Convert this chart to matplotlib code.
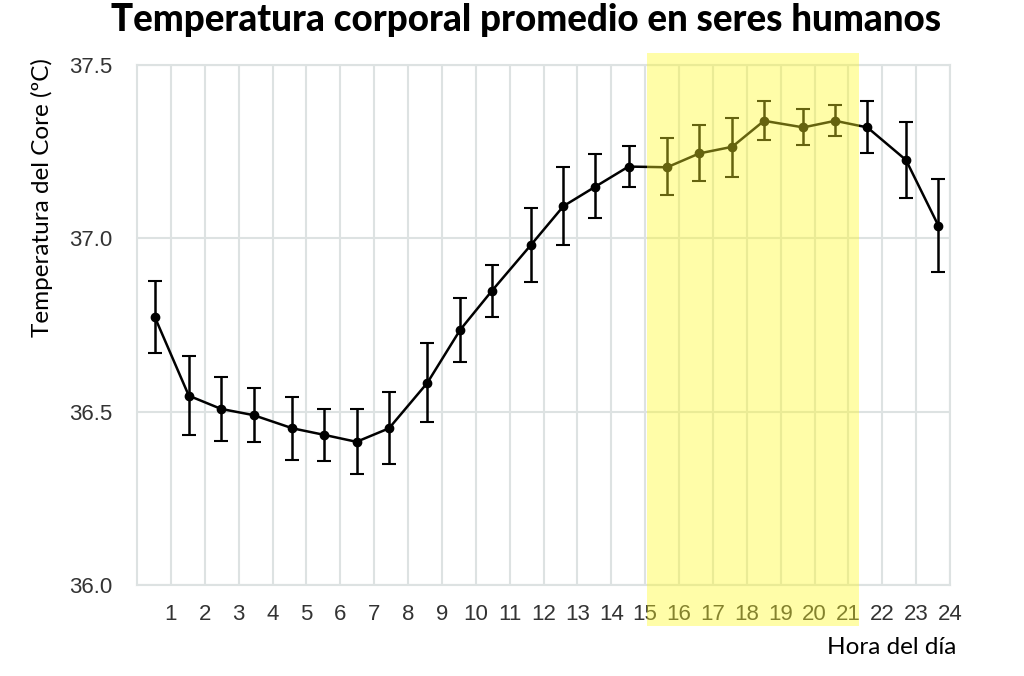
import numpy as np
import matplotlib
matplotlib.use("Agg")
import matplotlib.pyplot as plt

# posicion horaria de cada medicion
hours = [0.53, 1.53, 2.48, 3.44, 4.59, 5.53, 6.48, 7.44, 8.57, 9.54, 10.48, 11.63,
         12.59, 13.53, 14.51, 15.65, 16.6, 17.57, 18.51, 19.67, 20.61, 21.56, 22.7, 23.66]
temp = [36.772, 36.546, 36.508, 36.490, 36.452, 36.433, 36.413, 36.452, 36.583, 36.736,
        36.849, 36.981, 37.093, 37.149, 37.207, 37.205, 37.245, 37.264, 37.339, 37.320,
        37.339, 37.320, 37.226, 37.036]
err_hi = [36.876, 36.660, 36.601, 36.567, 36.543, 36.508, 36.508, 36.556, 36.697, 36.829,
          36.922, 37.087, 37.207, 37.242, 37.266, 37.290, 37.326, 37.348, 37.396, 37.372,
          37.385, 37.396, 37.337, 37.170]
err_lo = [36.670, 36.433, 36.415, 36.412, 36.360, 36.358, 36.320, 36.349, 36.471, 36.643,
          36.774, 36.873, 36.982, 37.059, 37.149, 37.124, 37.166, 37.178, 37.284, 37.269,
          37.295, 37.246, 37.115, 36.904]
hour_ticks = list(range(1, 25))
temp_ticks = [36.0, 36.5, 37.0, 37.5]
highlight = (15.05, 21.3)

temp = np.array(temp)
yerr = [temp - np.array(err_lo), np.array(err_hi) - temp]

fig = plt.figure(figsize=(10.24, 6.76), dpi=100)
ax = fig.add_axes([137/1024, 91/676, 813/1024, 520/676])

grid_c = "#dde2e2"
ax.errorbar(hours, temp, yerr=yerr, color="black", lw=1.8, marker="o", ms=6,
            elinewidth=1.8, capsize=5, capthick=1.5, zorder=3)

ax.set_xlim(0, 24)
ax.set_ylim(36.0, 37.5)
ax.set_xticks(hour_ticks)
ax.set_yticks(temp_ticks)
ax.set_yticklabels([f"{t:.1f}" for t in temp_ticks])
ax.grid(True, color=grid_c, lw=1.5, zorder=0)
ax.tick_params(length=0, labelsize=16, labelcolor="#333333", pad=14)
ax.tick_params(axis="y", pad=18)
for s in ax.spines.values():
    s.set_color(grid_c)
    s.set_linewidth(1.5)
for lab in ax.get_xticklabels() + ax.get_yticklabels():
    lab.set_family("Liberation Sans")

# franja amarilla que cubre tambien las etiquetas
ax.axvspan(highlight[0], highlight[1], ymin=-0.079, ymax=1.023, color=(1, 0.98, 0.15),
           alpha=0.4, lw=0, clip_on=False, zorder=10)

fig.text(526/1024, 1 - 20/676, "Temperatura corporal promedio en seres humanos",
         ha="center", va="center", fontsize=26.5, fontweight="black", family="Lato")
fig.text(42/1024, 1 - 198/676, "Temperatura del Core (ºC)", rotation=90,
         ha="center", va="center", fontsize=17.5, family="Lato")
fig.text(956/1024, 1 - 647/676, "Hora del día", ha="right", va="center",
         fontsize=17.5, family="Lato")

fig.savefig("out.png", dpi=100)
